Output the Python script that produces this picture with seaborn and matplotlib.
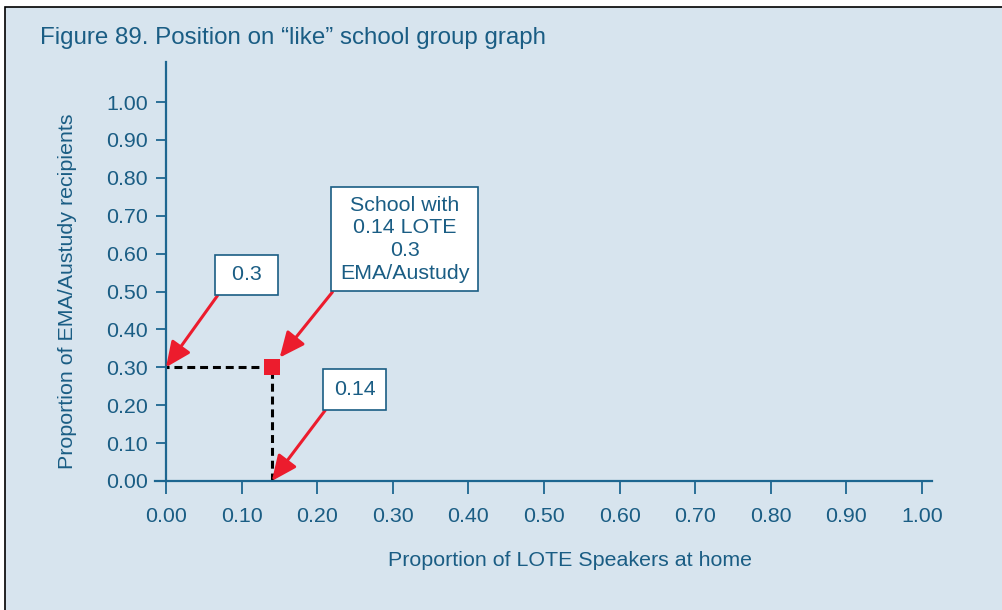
import matplotlib
matplotlib.use("Agg")
import matplotlib.pyplot as plt
from matplotlib.patches import Rectangle
import seaborn as sns
import pandas as pd

# School position on the "like" school group graph
school_lote = [0.14]
school_ema = [0.30]
x_ticks = [0.00, 0.10, 0.20, 0.30, 0.40, 0.50, 0.60, 0.70, 0.80, 0.90, 1.00]
y_ticks = [0.00, 0.10, 0.20, 0.30, 0.40, 0.50, 0.60, 0.70, 0.80, 0.90, 1.00]
title = "Figure 89. Position on \u201clike\u201d school group graph"
x_label = "Proportion of LOTE Speakers at home"
y_label = "Proportion of EMA/Austudy recipients"
box_text = "School with\n0.14 LOTE\n0.3\nEMA/Austudy"

BG = "#d7e4ee"
TEAL = "#1a5d84"
AXIS = "#1d6690"
RED = "#ec1c2d"
FS = 15.4

sns.set_theme(style="white")
plt.rcParams["font.family"] = ["Liberation Sans", "DejaVu Sans"]

W, H = 1003, 610
fig = plt.figure(figsize=(W / 100, H / 100), dpi=100)
fig.patch.set_facecolor("white")

# Panel background with a black frame on top/left
panel = Rectangle((5 / W, -0.05), 1.2, (H - 7) / H + 0.05, transform=fig.transFigure,
                  facecolor=BG, edgecolor="black", linewidth=1.2, zorder=-5)
fig.patches.append(panel)

# Axes placed so that 0 and 1 land on the panel's grid
x0_px, x1_px = 166, 922
y0_px, y1_px = 481, 102
sx = (x1_px - x0_px)
sy = (y0_px - y1_px)
xlim = (-0.03, 1.03)
ylim = (-0.05, 1.12)
left = (x0_px + xlim[0] * sx) / W
right = (x0_px + xlim[1] * sx) / W
bottom = 1 - (y0_px - ylim[0] * sy) / H
top = 1 - (y0_px - ylim[1] * sy) / H
ax = fig.add_axes([left, bottom, right - left, top - bottom], zorder=2)
ax.set_facecolor("none")
ax.set_xlim(*xlim)
ax.set_ylim(*ylim)

for s in ("top", "right"):
    ax.spines[s].set_visible(False)
for s in ("left", "bottom"):
    ax.spines[s].set_color(AXIS)
    ax.spines[s].set_linewidth(1.6)
    ax.spines[s].set_position(("data", 0))
ax.spines["bottom"].set_bounds(-0.014, 1.013)
ax.spines["left"].set_bounds(0, 1.105)

ax.set_xticks(x_ticks)
ax.set_yticks(y_ticks)
ax.set_xticklabels([f"{v:.2f}" for v in x_ticks])
ax.set_yticklabels([f"{v:.2f}" for v in y_ticks])
ax.tick_params(axis="x", direction="out", length=9.5, width=1.3, color=AXIS,
               labelcolor=TEAL, labelsize=FS, pad=9, bottom=True)
ax.tick_params(axis="y", direction="out", length=7, width=1.3, color=AXIS,
               labelcolor=TEAL, labelsize=FS, pad=6, left=True)

# Dashed guides from the school point to both axes
ax.plot([0, school_lote[0]], [school_ema[0], school_ema[0]], ls=(1.6, (2.6, 1.6)),
        color="black", lw=2.2, zorder=2)
ax.plot([school_lote[0], school_lote[0]], [0, school_ema[0]], ls=(0, (2.6, 1.6)),
        color="black", lw=2.2, zorder=2)

df = pd.DataFrame({"lote": school_lote, "ema": school_ema})
sns.scatterplot(data=df, x="lote", y="ema", marker="s", s=132, color=RED,
                edgecolor=RED, linewidth=0, ax=ax, zorder=5, legend=False)

ax.set_xlabel("")
ax.set_ylabel("")

box = dict(boxstyle="square,pad=0.5", facecolor="white", edgecolor=TEAL, linewidth=1.2)
arrow = dict(arrowstyle="-|>,head_length=1.0,head_width=0.45", color=RED, lw=2.2,
             relpos=(0, 0), shrinkA=0, shrinkB=0)

ax.annotate(" 0.3 ", xy=(0, school_ema[0]), xytext=(80.5, 92.5), textcoords="offset pixels",
            ha="center", va="center", fontsize=FS, color=TEAL, bbox=box,
            arrowprops=arrow, zorder=6)
ax.annotate("0.14", xy=(school_lote[0], 0), xytext=(82.7, 91.5), textcoords="offset pixels",
            ha="center", va="center", fontsize=FS, color=TEAL, bbox=box,
            arrowprops=arrow, zorder=6)
arrow_pt = dict(arrow, shrinkB=9)
ax.annotate(box_text, xy=(school_lote[0], school_ema[0]), xytext=(132.7, 128),
            textcoords="offset pixels", ha="center", va="center", fontsize=FS,
            color=TEAL, bbox=dict(box, boxstyle="square,pad=0.4"), arrowprops=arrow_pt,
            linespacing=1.25, multialignment="center", zorder=6)

fig.text(40 / W, 1 - 38 / H, title, ha="left", va="center", fontsize=17.4, color=TEAL)
fig.text(570 / W, 1 - 561 / H, x_label, ha="center", va="center", fontsize=FS, color=TEAL)
fig.text(68 / W, 1 - 291 / H, y_label, ha="center", va="center", rotation=90,
         fontsize=FS, color=TEAL)

fig.savefig("out.png", dpi=100, facecolor=fig.get_facecolor())
